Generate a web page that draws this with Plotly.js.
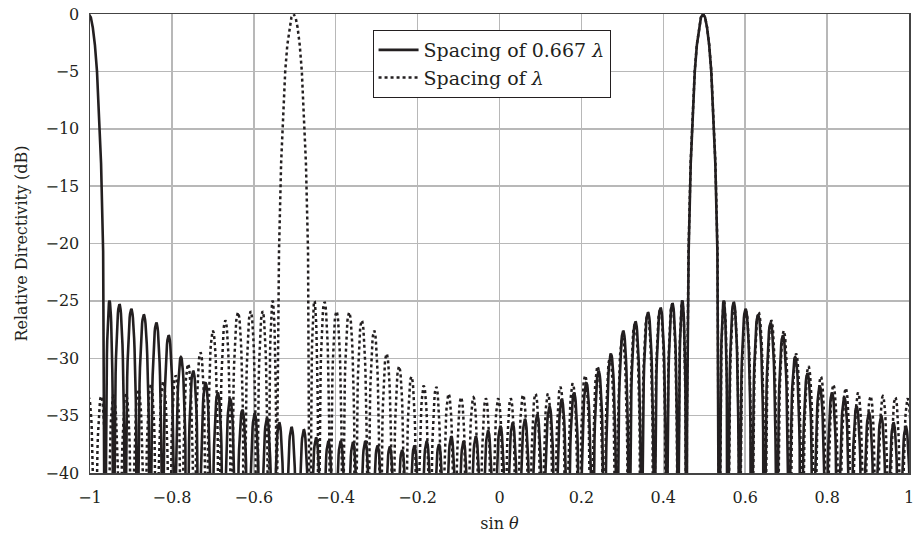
<!DOCTYPE html>
<html>
<head>
<meta charset="utf-8">
<script src="https://cdn.plot.ly/plotly-3.0.1.min.js"></script>
<style>
  html, body { margin: 0; padding: 0; background: #ffffff; }
  #chart { width: 919px; height: 535px; }
</style>
</head>
<body>
<div id="chart"></div>
<script>
// ---- values ----
// beam positions (sin θ)
const mainBeamSin = 0.497;
const solidGratingSin = -1.003;
const dottedGratingSin = -0.503;
// lobe spacing in sin θ for each array
const solidLobeStep = 0.030;
const dottedLobeStep = 0.0303;
// first (inner) null positions, in lobe steps from the beam centre
const innerNulls = [1.34, 2.03, 2.96, 3.96];
// main beam half-profile: offset (lobe steps) and level (dB)
const beamOffset = [0, 0.17, 0.33, 0.5, 0.67, 0.83, 1.0, 1.17, 1.22, 1.27, 1.30, 1.34];
const beamDb     = [0, -0.3, -1.2, -2.7, -5.0, -8.3, -13.0, -20.7, -25.0, -30.5, -36.0, -60];

// sidelobe peak levels (dB), lobe 1 = nearest the beam
const solidMainRight = [-25.0, -25.1, -25.7, -26.2, -26.9, -28.0, -29.9, -31.3, -32.4, -33.0, -33.4, -34.2, -34.7, -35.0, -35.6, -35.9];
const solidMainLeft = [-25.0, -25.2, -25.6, -26.0, -26.8, -27.6, -29.6, -31.1, -32.1, -33.0, -33.6, -34.2, -34.9, -35.3, -35.6, -35.9, -36.3, -36.8, -37.2, -36.8, -37.5, -37.2, -37.6, -38.0];
const solidGratingRight = [-25.0, -25.3, -25.7, -26.2, -26.9, -28.0, -29.9, -31.1, -32.1, -33.0, -33.5, -34.5, -34.8, -35.2, -35.6, -36.0, -36.2, -36.9, -37.2, -37.2, -37.3, -37.2, -37.6, -37.7];

const dottedGratingLeft = [-25.0, -25.9, -25.9, -26.0, -26.7, -27.6, -29.5, -30.5, -31.5, -32.0, -32.3, -32.7, -33.1, -33.3, -33.3, -33.4];
const dottedGratingRight = [-25.0, -25.1, -25.9, -26.0, -26.7, -27.6, -29.6, -30.7, -31.6, -32.4, -32.5, -33.1, -33.4, -33.4, -33.5, -33.5];
const dottedMainLeft = [-25.0, -25.3, -25.7, -26.2, -27.0, -28.2, -29.9, -30.7, -31.5, -32.2, -32.5, -33.1, -33.1, -33.2, -33.5];
const dottedMainRight = [-25.0, -25.5, -25.9, -26.0, -26.7, -27.6, -29.6, -30.7, -31.6, -32.3, -32.6, -33.0, -33.3, -33.3, -33.4, -33.5];

const xTickVals = [-1, -0.8, -0.6, -0.4, -0.2, 0, 0.2, 0.4, 0.6, 0.8, 1];
const xTickText = ['\u22121', '\u22120.8', '\u22120.6', '\u22120.4', '\u22120.2', '0', '0.2', '0.4', '0.6', '0.8', '1'];
const yTickVals = [-40, -35, -30, -25, -20, -15, -10, -5, 0];
const yTickText = ['\u221240', '\u221235', '\u221230', '\u221225', '\u221220', '\u221215', '\u221210', '\u22125', '0'];

// ---- drawing helpers: turn the read peaks into lobe outlines ----
const PTS = 30;
function nullAt(n) { return n <= innerNulls.length ? innerNulls[n - 1] : n; }

function sideLobes(center, dir, step, peaks) {
  const xs = [], ys = [];
  for (let k = 1; k <= peaks.length; k++) {
    const a = nullAt(k), b = nullAt(k + 1);
    const amp = Math.pow(10, peaks[k - 1] / 20);
    for (let i = (k === 1 ? 1 : 0); i <= PTS; i++) {
      const t = i / PTS;
      const u = a + (b - a) * t;
      const v = amp * Math.sin(Math.PI * t);
      xs.push(center + dir * u * step);
      ys.push(v > 1e-4 ? 20 * Math.log10(v) : -80);
    }
  }
  if (dir < 0) { xs.reverse(); ys.reverse(); }
  return { xs, ys };
}
function beam(center, step) {
  const xs = [], ys = [];
  for (let i = beamOffset.length - 1; i > 0; i--) { xs.push(center - beamOffset[i] * step); ys.push(beamDb[i]); }
  for (let i = 0; i < beamOffset.length; i++) { xs.push(center + beamOffset[i] * step); ys.push(beamDb[i]); }
  return { xs, ys };
}
function join(parts) {
  const x = [], y = [];
  parts.forEach(p => { x.push(...p.xs); y.push(...p.ys); });
  return { x, y };
}

const solid = join([
  beam(solidGratingSin, solidLobeStep),
  sideLobes(solidGratingSin, 1, solidLobeStep, solidGratingRight),
  sideLobes(mainBeamSin, -1, solidLobeStep, solidMainLeft),
  beam(mainBeamSin, solidLobeStep),
  sideLobes(mainBeamSin, 1, solidLobeStep, solidMainRight)
]);
const dotted = join([
  sideLobes(dottedGratingSin, -1, dottedLobeStep, dottedGratingLeft),
  beam(dottedGratingSin, dottedLobeStep),
  sideLobes(dottedGratingSin, 1, dottedLobeStep, dottedGratingRight),
  sideLobes(mainBeamSin, -1, dottedLobeStep, dottedMainLeft),
  beam(mainBeamSin, dottedLobeStep),
  sideLobes(mainBeamSin, 1, dottedLobeStep, dottedMainRight)
]);

const ink = '#231f20';
const fam = 'DejaVu Serif, Liberation Serif, serif';

const traces = [
  { x: solid.x, y: solid.y, type: 'scatter', mode: 'lines', name: 'Spacing of 0.667 <i>λ</i>',
    line: { color: ink, width: 2.6 }, hoverinfo: 'skip' },
  { x: dotted.x, y: dotted.y, type: 'scatter', mode: 'lines', name: 'Spacing of <i>λ</i>',
    line: { color: ink, width: 2.5, dash: 'dot' }, hoverinfo: 'skip' }
];

const layout = {
  width: 919, height: 535,
  margin: { l: 90, r: 10, t: 14, b: 62 },
  paper_bgcolor: '#ffffff', plot_bgcolor: '#ffffff',
  font: { family: fam, size: 16, color: ink },
  showlegend: true,
  legend: {
    x: 0.345, y: 0.965, xanchor: 'left', yanchor: 'top',
    bgcolor: '#ffffff', bordercolor: ink, borderwidth: 1,
    font: { family: fam, size: 19, color: ink },
    itemwidth: 40, tracegroupgap: 0
  },
  xaxis: {
    range: [-1, 1], tickmode: 'array', tickvals: xTickVals, ticktext: xTickText,
    showgrid: true, gridcolor: '#b8b8b8', gridwidth: 1.5,
    showline: true, linecolor: '#444444', linewidth: 1.5, mirror: true,
    zeroline: false, ticks: '', ticklabelstandoff: 9,
    tickfont: { family: fam, size: 16, color: ink },
    title: { text: 'sin <i>θ</i>', font: { family: fam, size: 16, color: ink }, standoff: 12 },
    automargin: false
  },
  yaxis: {
    range: [-40, 0], tickmode: 'array', tickvals: yTickVals, ticktext: yTickText,
    showgrid: true, gridcolor: '#b8b8b8', gridwidth: 1.5,
    showline: true, linecolor: '#444444', linewidth: 1.5, mirror: true,
    zeroline: false, ticks: '', ticklabelstandoff: 6,
    tickfont: { family: fam, size: 16, color: ink },
    title: { text: 'Relative Directivity (dB)', font: { family: fam, size: 16, color: ink }, standoff: 14 },
    automargin: false
  }
};

Plotly.newPlot('chart', traces, layout, { staticPlot: true, displayModeBar: false });
</script>
</body>
</html>
